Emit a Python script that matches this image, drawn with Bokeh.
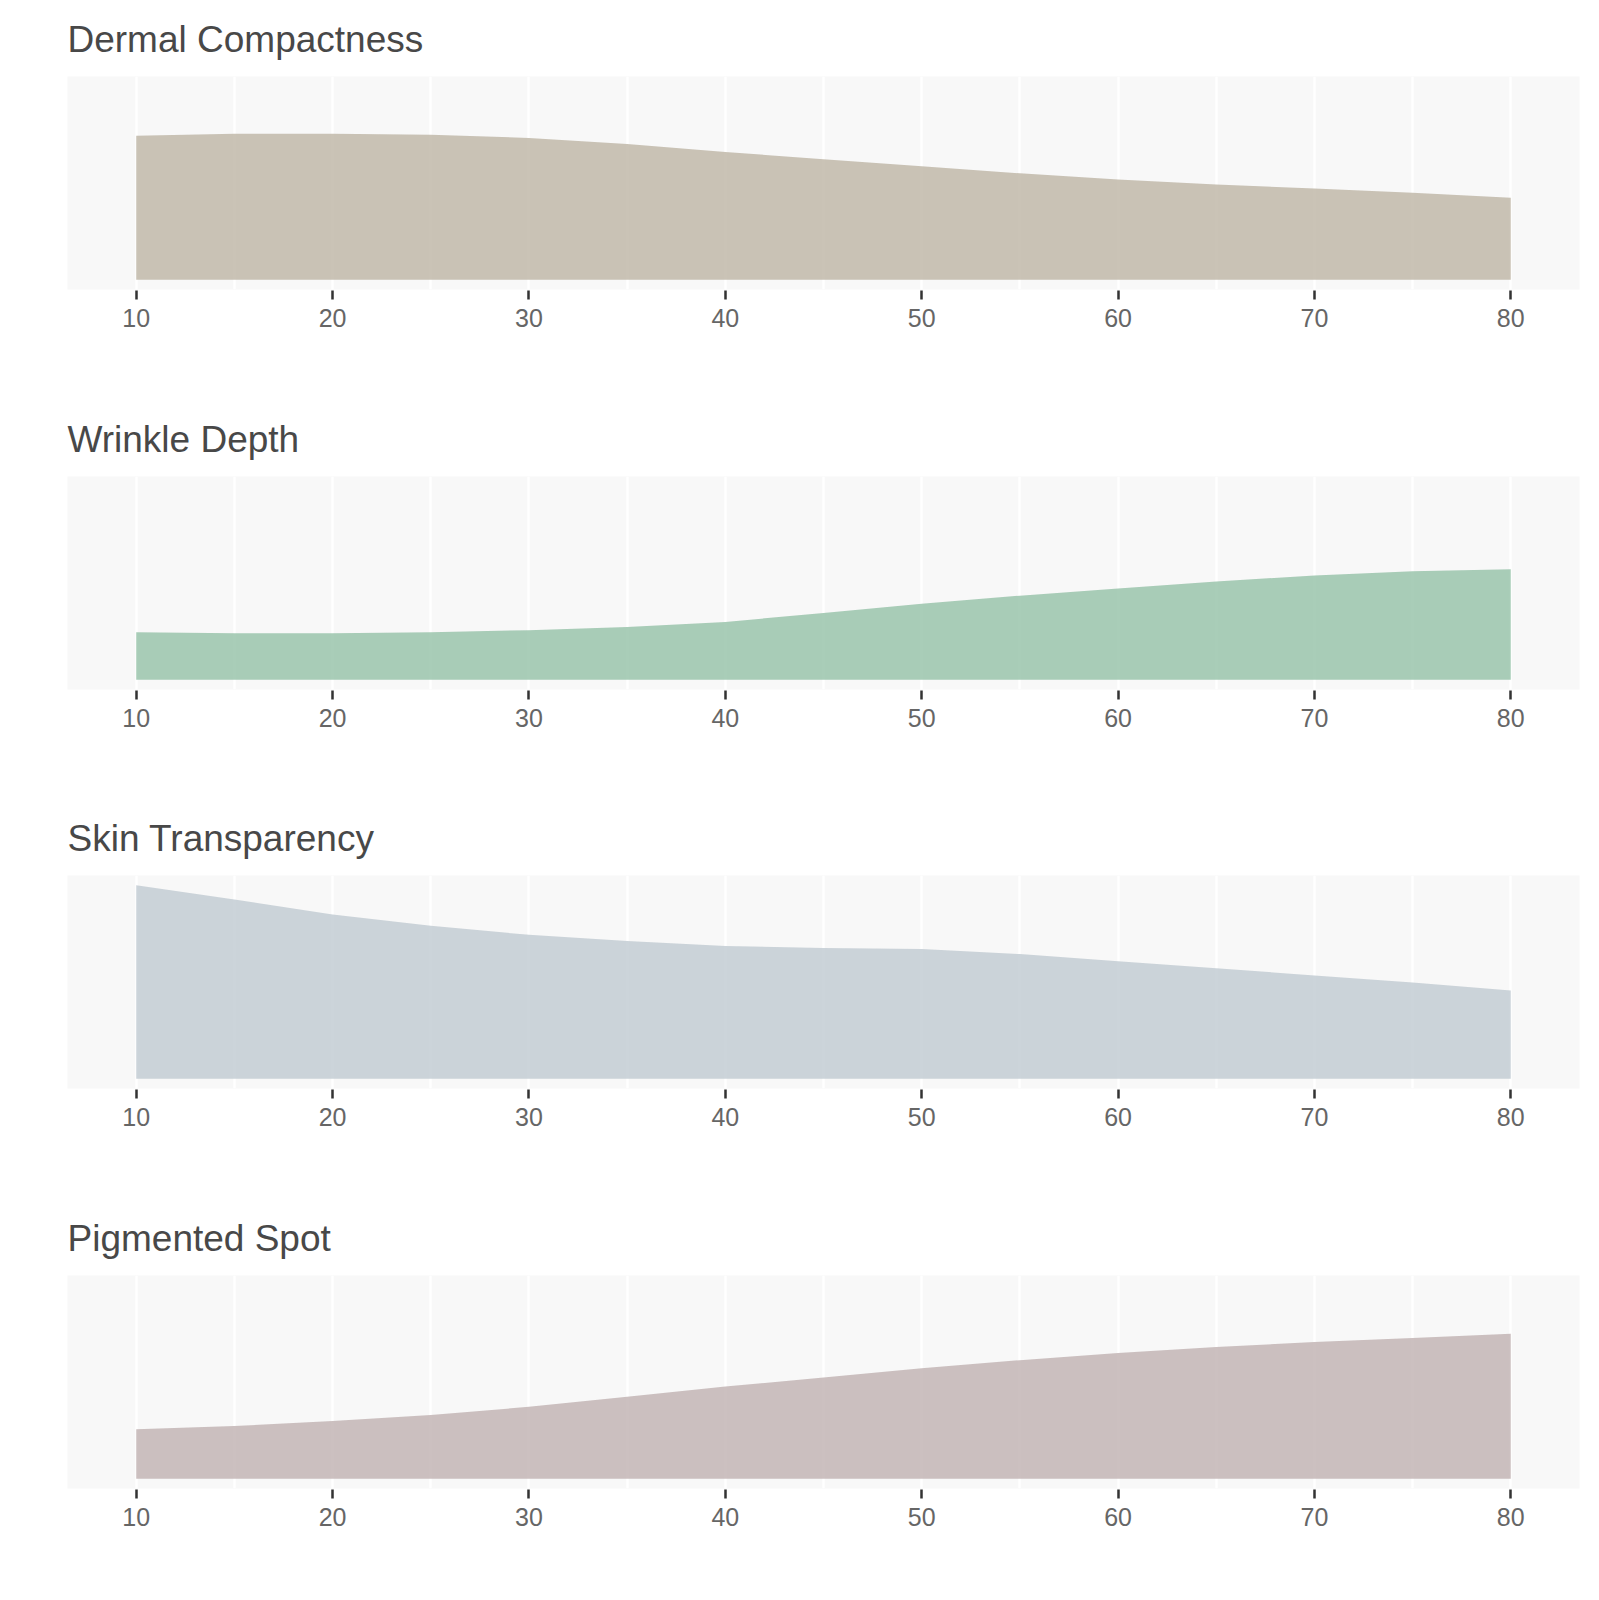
from bokeh.plotting import figure
from bokeh.layouts import column
from bokeh.models import Range1d, FixedTicker
from bokeh.embed import file_html
from bokeh.resources import INLINE

# ---- data ----
ages = [10, 15, 20, 25, 30, 35, 40, 45, 50, 55, 60, 65, 70, 75, 80]
tick_ages = [10, 20, 30, 40, 50, 60, 70, 80]

titles = ["Dermal Compactness", "Wrinkle Depth", "Skin Transparency", "Pigmented Spot"]

dermal_compactness = [142, 144, 144, 143, 140, 134, 126, 119, 112, 105, 99, 94, 90, 86, 81]
wrinkle_depth = [47, 46, 46, 47, 49, 52, 57, 66, 75, 83, 90, 97, 103, 107, 109]
skin_transparency = [191, 177, 162, 151, 142, 136, 131, 129, 128, 123, 116, 109, 102, 95, 87]
pigmented_spot = [49, 52, 57, 63, 71, 81, 91, 100, 109, 117, 124, 130, 135, 139, 143]

series = [dermal_compactness, wrinkle_depth, skin_transparency, pigmented_spot]
colors = ["#bdb4a4", "#93c0a6", "#bfc9d1", "#bfb0b0"]

ymax = max(max(s) for s in series)
heights = [400, 399, 400, 345]
top = 76
frame_h = 213

figs = []
for i, (title, vals, col) in enumerate(zip(titles, series, colors)):
    h = heights[i]
    p = figure(
        width=1590, height=h,
        x_range=Range1d(6.5, 83.5),
        y_range=Range1d(-0.05 * ymax, 1.05 * ymax),
        output_backend="svg", toolbar_location=None,
        min_border_left=67, min_border_right=11,
        min_border_top=top, min_border_bottom=h - top - frame_h,
        title=title,
    )
    p.title.text_font = "Liberation Sans"
    p.title.text_font_size = "37px"
    p.title.text_font_style = "normal"
    p.title.text_color = "#484848"
    p.title.align = "left"
    p.title.standoff = 33

    p.background_fill_color = "#f8f8f8"
    p.border_fill_color = "white"
    p.outline_line_color = None

    p.varea(x=ages, y1=[0] * len(ages), y2=vals, fill_color=col, fill_alpha=0.8)

    p.yaxis.visible = False
    p.ygrid.grid_line_color = None
    p.xgrid.ticker = FixedTicker(ticks=list(range(10, 81, 5)))
    p.xgrid.grid_line_color = "white"
    p.xgrid.grid_line_width = 2.5

    ax = p.xaxis[0]
    ax.ticker = FixedTicker(ticks=tick_ages)
    ax.axis_line_color = None
    ax.major_tick_line_color = "#333333"
    ax.major_tick_line_width = 2.5
    ax.major_tick_in = -1
    ax.major_tick_out = 10
    ax.minor_tick_line_color = None
    ax.major_label_text_font = "Liberation Sans"
    ax.major_label_text_font_size = "25px"
    ax.major_label_text_color = "#666666"
    ax.major_label_standoff = 9
    figs.append(p)

layout = column(*figs, spacing=0)
open("out.html", "w").write(file_html(layout, INLINE))
